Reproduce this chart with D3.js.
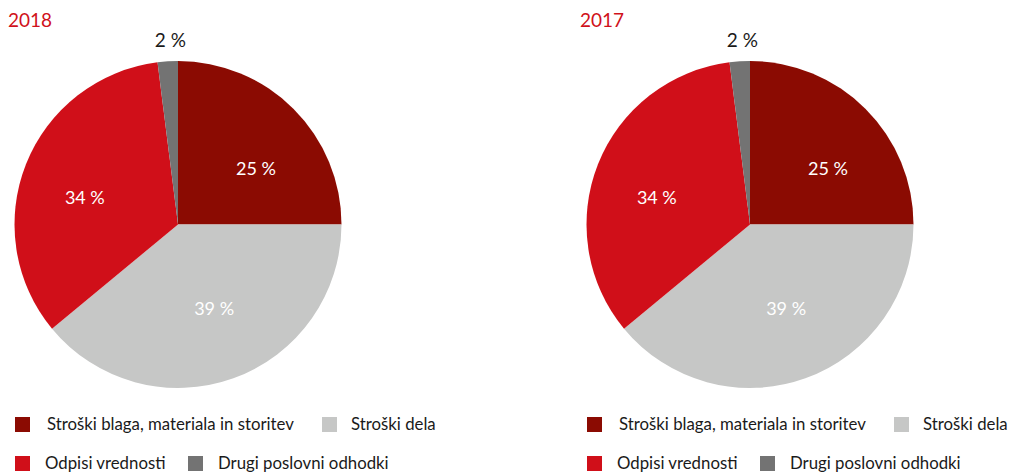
<!DOCTYPE html>
<html>
<head>
<meta charset="utf-8">
<script src="https://cdn.jsdelivr.net/npm/d3@7"></script>
<style>
  html, body { margin: 0; padding: 0; background: #fff; }
  svg { display: block; font-family: "Source Sans Pro", Lato, "Noto Sans", sans-serif; }
</style>
</head>
<body>
<svg id="chart" width="1010" height="475"></svg>
<script>
// Operating expense structure by year
const categories = [
  "Stroški blaga, materiala in storitev",
  "Stroški dela",
  "Odpisi vrednosti",
  "Drugi poslovni odhodki"
];
const years = ["2018", "2017"];
const values2018 = [25, 39, 34, 2];
const values2017 = [25, 39, 34, 2];
const colors = ["#8b0b02", "#c6c7c6", "#d00f19", "#737373"];

const svg = d3.select("#chart");
const radius = 163.5;
const panels = [
  { year: years[0], values: values2018, x0: 0, cx: 178 },
  { year: years[1], values: values2017, x0: 572, cx: 750 }
];

// small nudges applied to the slice label anchors
const labelNudge = [[11, 11], [4, -5], [-5, 8], [4, 0]];

const pie = d3.pie().sort(null).value(d => d);
const arc = d3.arc().innerRadius(0).outerRadius(radius);
const labelArc = d3.arc().innerRadius(radius * 0.58).outerRadius(radius * 0.58);
const outerLabelArc = d3.arc().innerRadius(radius * 1.13).outerRadius(radius * 1.13);

panels.forEach(p => {
  const g = svg.append("g");

  g.append("text")
    .attr("x", p.x0 + 8)
    .attr("y", 27)
    .attr("fill", "#d0111b")
    .attr("font-size", 19)
    .text(p.year);

  const pg = g.append("g").attr("transform", `translate(${p.cx},224.5)`);
  const arcs = pie(p.values);

  pg.selectAll("path")
    .data(arcs)
    .join("path")
    .attr("d", arc)
    .attr("fill", (d, i) => colors[i]);

  pg.selectAll("text.lbl")
    .data(arcs)
    .join("text")
    .attr("class", "lbl")
    .attr("transform", d => {
      const c = d.data < 5 ? outerLabelArc.centroid(d) : labelArc.centroid(d);
      const n = labelNudge[d.index];
      return `translate(${c[0] + n[0]},${c[1] + n[1]})`;
    })
    .attr("text-anchor", "middle")
    .attr("dy", "0.35em")
    .attr("font-size", d => d.data < 5 ? 19 : 18)
    .attr("fill", d => d.data < 5 ? "#1a1a1a" : "#ffffff")
    .text(d => d.data + " %");

  // Legend
  const legendPos = [
    { sx: 15, tx: 47, y: 424 },
    { sx: 322, tx: 351, y: 424 },
    { sx: 15, tx: 45, y: 463 },
    { sx: 188, tx: 218, y: 463 }
  ];
  const lg = g.append("g").attr("transform", `translate(${p.x0},0)`);
  categories.forEach((c, i) => {
    const lp = legendPos[i];
    lg.append("rect")
      .attr("x", lp.sx).attr("y", lp.y - 7)
      .attr("width", 15).attr("height", 15)
      .attr("fill", colors[i]);
    lg.append("text")
      .attr("x", lp.tx).attr("y", lp.y)
      .attr("dy", "0.35em")
      .attr("font-size", 16.8)
      .attr("fill", "#1a1a1a")
      .text(c);
  });
});
</script>
</body>
</html>
